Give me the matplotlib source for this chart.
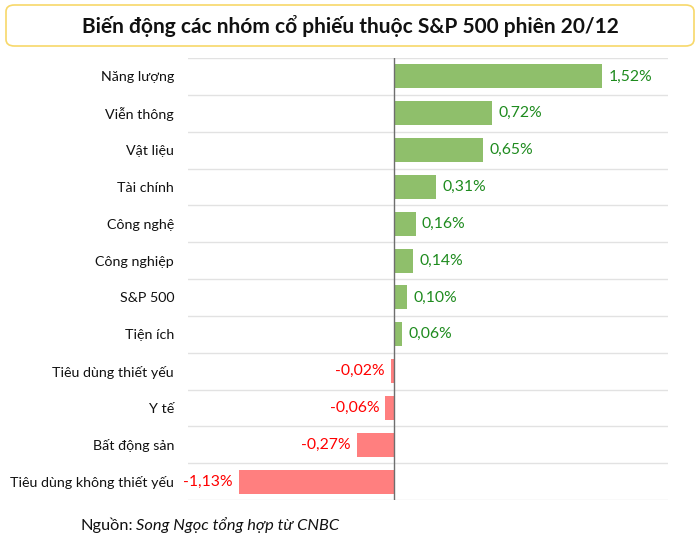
import matplotlib
matplotlib.use("Agg")
import matplotlib.pyplot as plt
from matplotlib.patches import FancyBboxPatch

plt.rcParams['font.family'] = ['Lato', 'DejaVu Sans']

categories = ["Năng lượng", "Viễn thông", "Vật liệu", "Tài chính", "Công nghệ",
              "Công nghiệp", "S&P 500", "Tiện ích", "Tiêu dùng thiết yếu", "Y tế",
              "Bất động sản", "Tiêu dùng không thiết yếu"]
values = [1.52, 0.72, 0.65, 0.31, 0.16, 0.14, 0.10, 0.06, -0.02, -0.06, -0.27, -1.13]
labels = ["1,52%", "0,72%", "0,65%", "0,31%", "0,16%", "0,14%", "0,10%", "0,06%",
          "-0,02%", "-0,06%", "-0,27%", "-1,13%"]
title = "Biến động các nhóm cổ phiếu thuộc S&P 500 phiên 20/12"

W, H = 700, 546
fig = plt.figure(figsize=(W / 100, H / 100), dpi=100)

# title box
box = FancyBboxPatch((6 / W, 1 - 46 / H), 688 / W, 41 / H,
                     boxstyle="round,pad=0,rounding_size=0.012",
                     transform=fig.transFigure, facecolor="white",
                     edgecolor="#F7D86A", linewidth=1.2)
fig.patches.append(box)
fig.text(0.5, 1 - 26 / H, title, ha="center", va="center",
         fontsize=15, fontweight="bold", color="#111111")

left, right, top, bottom = 188, 668, 58, 500
ax = fig.add_axes([left / W, 1 - bottom / H, (right - left) / W, (bottom - top) / H])

n = len(categories)
ypos = list(range(n))
colors = ["#8FBF6B" if v >= 0 else "#FF7F7F" for v in values]
ax.barh(ypos, values, height=0.65, color=colors, zorder=2)

for y, v, lab in zip(ypos, values, labels):
    if v >= 0:
        ax.text(v + 0.045, y, lab, ha="left", va="center", fontsize=11.3,
                color="#1E8B1E")
    else:
        ax.text(v - 0.045, y, lab, ha="right", va="center", fontsize=11.3,
                color="#FF0000")

ax.set_xlim(-1.5, 2.0)
ax.set_ylim(n - 0.5, -0.5)
for k in range(n + 1):
    ax.axhline(k - 0.5, color="#E2E2E2", linewidth=1, zorder=1)
ax.axvline(0, color="#6E6E6E", linewidth=1, zorder=3)

ax.set_yticks(ypos)
ax.set_yticklabels(categories, fontsize=10.3, color="#111111")
ax.tick_params(axis="y", length=0, pad=10)
ax.set_xticks([])
for s in ax.spines.values():
    s.set_visible(False)

fig.text(80 / W, 1 - 525 / H, "Nguồn:", ha="left", va="center",
         fontsize=11.8, color="#111111")
fig.text(136 / W, 1 - 525 / H, "Song Ngọc tổng hợp từ CNBC", ha="left",
         va="center", fontsize=11.8, style="italic", color="#111111")

fig.savefig("out.png", dpi=100, facecolor="white")
